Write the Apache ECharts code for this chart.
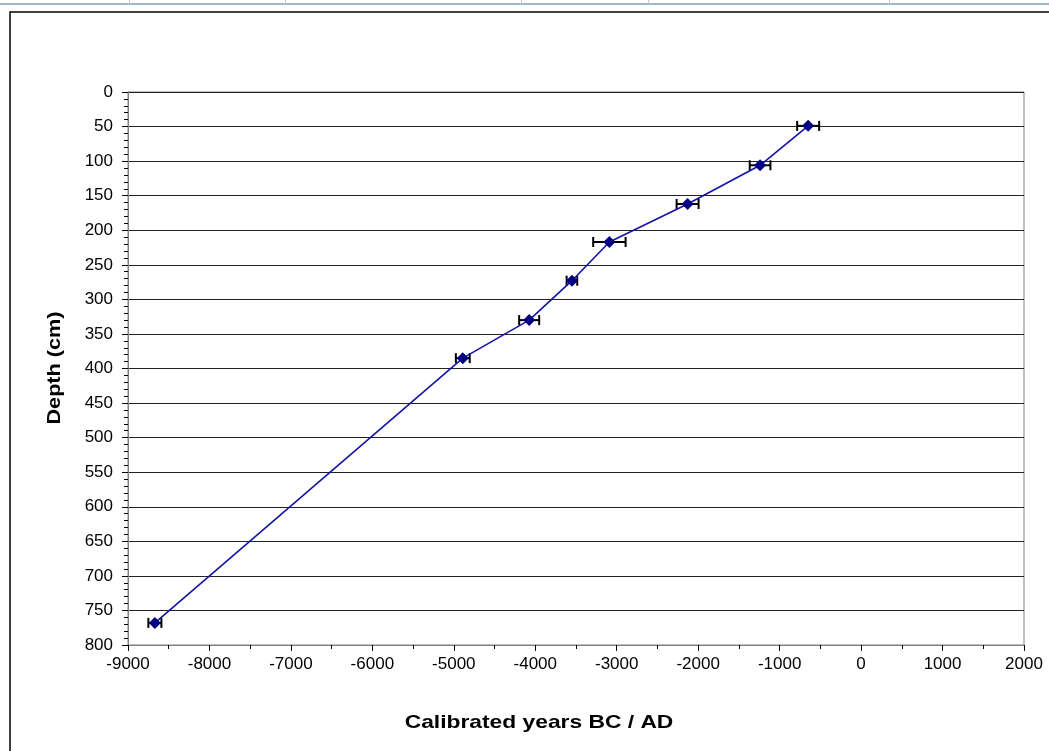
<!DOCTYPE html>
<html>
<head>
<meta charset="utf-8">
<script src="https://cdn.jsdelivr.net/npm/echarts@6/dist/echarts.min.js"></script>
<style>
html,body{margin:0;padding:0;background:#fff;}
#c{width:1049px;height:751px;}
</style>
</head>
<body>
<div id="c"></div>
<script>
// Data
var years = [-650, -1240, -2130, -3090, -3550, -4075, -4890, -8670];
var depths = [49, 106, 162, 217, 273, 330, 385, 768];
var errors = [135, 127, 135, 199, 65, 123, 85, 80];
var xTitle = 'Calibrated years BC / AD';
var yTitle = 'Depth (cm)';

var lineData = years.map(function (y, i) { return [y, depths[i]]; });
var errData = years.map(function (y, i) { return [y, depths[i], errors[i]]; });

var chart = echarts.init(document.getElementById('c'), null, {renderer: 'canvas'});
var font = 'Liberation Sans, Arial, sans-serif';

chart.setOption({
  animation: false,
  backgroundColor: '#fff',
  grid: {left: 128, right: 25, top: 92, bottom: 106, show: true, borderColor: '#808080', borderWidth: 1},
  xAxis: {
    type: 'value', min: -9000, max: 2000, interval: 1000,
    axisLine: {show: true, onZero: false, lineStyle: {color: '#808080', width: 1}},
    axisTick: {show: true, length: 6, lineStyle: {color: '#000'}},
    minorTick: {show: true, splitNumber: 2, length: 4, lineStyle: {color: '#000'}},
    splitLine: {show: false},
    axisLabel: {color: '#000', fontSize: 17, fontFamily: font, margin: 11,
      formatter: function (v) { return String(v); }}
  },
  yAxis: {
    type: 'value', inverse: true, min: 0, max: 800, interval: 50,
    axisLine: {show: true, onZero: false, lineStyle: {color: '#808080', width: 1}},
    axisTick: {show: true, length: 6, lineStyle: {color: '#000'}},
    minorTick: {show: true, splitNumber: 5, length: 4, lineStyle: {color: '#000'}},
    splitLine: {show: true, lineStyle: {color: '#222', width: 1}},
    axisLabel: {color: '#000', fontSize: 17, fontFamily: font, margin: 15,
      formatter: function (v) { return String(v); }}
  },
  series: [
    {
      type: 'line', data: lineData, symbol: 'diamond', symbolSize: 12,
      lineStyle: {color: '#1414A4', width: 1.6},
      itemStyle: {color: '#000080'}, z: 3
    },
    {
      type: 'custom', data: errData, encode: {x: 0, y: 1}, z: 2,
      renderItem: function (params, api) {
        var x = api.value(0), y = api.value(1), e = api.value(2);
        var p1 = api.coord([x - e, y]);
        var p2 = api.coord([x + e, y]);
        var h = 5;
        var st = {stroke: '#000', lineWidth: 2};
        return {
          type: 'group',
          children: [
            {type: 'line', shape: {x1: p1[0], y1: p1[1], x2: p2[0], y2: p2[1]}, style: st},
            {type: 'line', shape: {x1: p1[0], y1: p1[1] - h, x2: p1[0], y2: p1[1] + h}, style: st},
            {type: 'line', shape: {x1: p2[0], y1: p2[1] - h, x2: p2[0], y2: p2[1] + h}, style: st}
          ]
        };
      }
    }
  ],
  graphic: [
    {type: 'rect', shape: {x: 10, y: 12, width: 1100, height: 800}, style: {fill: 'none', stroke: '#000', lineWidth: 1.5}, silent: true, z: -1},
    {type: 'line', shape: {x1: 0, y1: 4, x2: 1049, y2: 4}, style: {stroke: '#9fb6c4', lineWidth: 2}},
    {type: 'line', shape: {x1: 129.5, y1: 0, x2: 129.5, y2: 4}, style: {stroke: '#c0c8d0', lineWidth: 1}},
    {type: 'line', shape: {x1: 285.5, y1: 0, x2: 285.5, y2: 4}, style: {stroke: '#c0c8d0', lineWidth: 1}},
    {type: 'line', shape: {x1: 521.5, y1: 0, x2: 521.5, y2: 4}, style: {stroke: '#c0c8d0', lineWidth: 1}},
    {type: 'line', shape: {x1: 648.5, y1: 0, x2: 648.5, y2: 4}, style: {stroke: '#c0c8d0', lineWidth: 1}},
    {type: 'line', shape: {x1: 889.5, y1: 0, x2: 889.5, y2: 4}, style: {stroke: '#c0c8d0', lineWidth: 1}},
    {type: 'text', x: 539, y: 723, scaleX: 1.2, style: {text: xTitle, font: 'bold 19px Liberation Sans, Arial, sans-serif', fill: '#000', align: 'center', verticalAlign: 'middle'}},
    {type: 'text', x: 55, y: 368, rotation: Math.PI / 2, scaleX: 1.14, style: {text: yTitle, font: 'bold 19px Liberation Sans, Arial, sans-serif', fill: '#000', align: 'center', verticalAlign: 'middle'}}
  ]
});
</script>
</body>
</html>
